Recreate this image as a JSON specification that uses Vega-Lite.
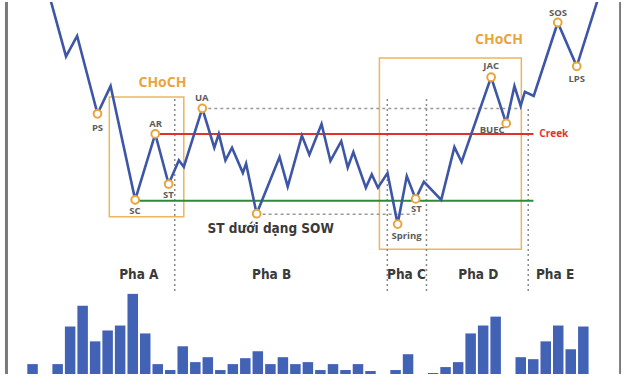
{
  "$schema": "https://vega.github.io/schema/vega-lite/v6.json",
  "width": 627,
  "height": 376,
  "autosize": {"type": "fit", "contains": "padding"},
  "padding": 0,
  "background": "white",
  "config": {"view": {"stroke": null}},
  "datasets": {
    "price": [
      {"t": 43, "p": 390}, {"t": 62, "p": 321}, {"t": 73.3, "p": 341.7}, {"t": 94, "p": 263},
      {"t": 107.3, "p": 291}, {"t": 132.3, "p": 176}, {"t": 152.7, "p": 242.7}, {"t": 166.3, "p": 192},
      {"t": 176.7, "p": 216}, {"t": 181.7, "p": 209.3}, {"t": 200.5, "p": 268.5}, {"t": 212.7, "p": 228.7},
      {"t": 217.3, "p": 242.7}, {"t": 224, "p": 216}, {"t": 230.7, "p": 228.7}, {"t": 241.7, "p": 203.3},
      {"t": 245, "p": 212.7}, {"t": 255.7, "p": 162}, {"t": 279, "p": 219.3}, {"t": 287.3, "p": 189.3},
      {"t": 301.7, "p": 241}, {"t": 309.3, "p": 221.7}, {"t": 321.7, "p": 252.7}, {"t": 330.7, "p": 215.3},
      {"t": 341.7, "p": 235.3}, {"t": 348.3, "p": 208.7}, {"t": 354, "p": 224.3}, {"t": 366.7, "p": 188.3},
      {"t": 372.7, "p": 201.7}, {"t": 379, "p": 188.3}, {"t": 388.7, "p": 203}, {"t": 399, "p": 151.5},
      {"t": 408.3, "p": 200}, {"t": 417.3, "p": 177}, {"t": 425.7, "p": 194.3}, {"t": 443.3, "p": 176},
      {"t": 456.7, "p": 229.3}, {"t": 464, "p": 214.3}, {"t": 494, "p": 300}, {"t": 509.3, "p": 253.3},
      {"t": 517.7, "p": 291}, {"t": 524, "p": 271}, {"t": 528.3, "p": 285.3}, {"t": 537.3, "p": 281},
      {"t": 561.7, "p": 355.3}, {"t": 581, "p": 311}, {"t": 607, "p": 393}
    ],
    "events": [
      {"t": 94, "p": 263, "name": "PS", "lt": 94, "lp": 249},
      {"t": 132.3, "p": 176, "name": "SC", "lt": 132, "lp": 165},
      {"t": 152.7, "p": 242.7, "name": "AR", "lt": 153, "lp": 253},
      {"t": 166.3, "p": 192, "name": "ST", "lt": 166, "lp": 181},
      {"t": 200.5, "p": 268.5, "name": "UA", "lt": 200, "lp": 279},
      {"t": 255.7, "p": 162, "name": "", "lt": 255.7, "lp": 162},
      {"t": 399, "p": 151.5, "name": "Spring", "lt": 408, "lp": 139},
      {"t": 417.3, "p": 177, "name": "ST", "lt": 418, "lp": 167},
      {"t": 494, "p": 300, "name": "JAC", "lt": 494, "lp": 311},
      {"t": 509.3, "p": 253.3, "name": "BUEC", "lt": 495, "lp": 247},
      {"t": 561.7, "p": 355.3, "name": "SOS", "lt": 562, "lp": 365},
      {"t": 581, "p": 311, "name": "LPS", "lt": 581, "lp": 298}
    ],
    "volume": [
      {"t": 28, "v": 10}, {"t": 53.5, "v": 10}, {"t": 66.2, "v": 48}, {"t": 78.9, "v": 69},
      {"t": 91.6, "v": 33}, {"t": 104.3, "v": 44}, {"t": 117, "v": 49}, {"t": 129.8, "v": 81},
      {"t": 142.5, "v": 41}, {"t": 155.2, "v": 10}, {"t": 167.9, "v": 4}, {"t": 180.6, "v": 28},
      {"t": 193.4, "v": 12}, {"t": 206.1, "v": 17}, {"t": 218.8, "v": 4}, {"t": 231.5, "v": 10},
      {"t": 244.2, "v": 16}, {"t": 256.9, "v": 23}, {"t": 269.7, "v": 10}, {"t": 282.4, "v": 17},
      {"t": 295.1, "v": 10}, {"t": 307.8, "v": 12}, {"t": 320.5, "v": 4}, {"t": 333.3, "v": 10},
      {"t": 346, "v": 4}, {"t": 358.7, "v": 10}, {"t": 371.4, "v": 3}, {"t": 396.9, "v": 4},
      {"t": 409.6, "v": 20}, {"t": 435, "v": 1}, {"t": 447.7, "v": 7}, {"t": 460.5, "v": 12},
      {"t": 473.2, "v": 41}, {"t": 485.9, "v": 49}, {"t": 498.6, "v": 58}, {"t": 524.1, "v": 17},
      {"t": 536.8, "v": 15}, {"t": 549.5, "v": 33}, {"t": 562.2, "v": 49}, {"t": 574.9, "v": 25},
      {"t": 587.7, "v": 48}
    ]
  },
  "layer": [
    {
      "data": {"name": "volume"},
      "mark": {"type": "bar", "color": "#4262B6", "width": 10.5},
      "encoding": {
        "x": {"field": "t", "type": "quantitative", "scale": {"domain": [0, 627], "nice": false, "zero": false}, "axis": null},
        "y": {"field": "v", "type": "quantitative", "scale": {"domain": [0, 376], "nice": false, "zero": false}, "axis": null}
      }
    },
    {
      "data": {"values": [{"t": 1.5, "c": "a"}]},
      "mark": {"type": "rule", "color": "#7a7a7a", "strokeWidth": 3},
      "encoding": {"x": {"field": "t", "type": "quantitative"}}
    },
    {
      "data": {"values": [{"t": 625, "c": "b"}]},
      "mark": {"type": "rule", "color": "#555555", "strokeWidth": 1.5},
      "encoding": {"x": {"field": "t", "type": "quantitative"}}
    },
    {
      "data": {"values": [
        {"t1": 106, "t2": 181.7, "p1": 159, "p2": 280},
        {"t1": 380.5, "t2": 524.7, "p1": 126, "p2": 319.3}
      ]},
      "mark": {"type": "rect", "fill": "transparent", "stroke": "#EDB55C", "strokeWidth": 1.5},
      "encoding": {
        "x": {"field": "t1", "type": "quantitative"},
        "x2": {"field": "t2"},
        "y": {"field": "p1", "type": "quantitative"},
        "y2": {"field": "p2"}
      }
    },
    {
      "data": {"values": [
        {"t": 172.5, "p1": 84, "p2": 280},
        {"t": 388.5, "p1": 84, "p2": 279},
        {"t": 428.3, "p1": 84, "p2": 279},
        {"t": 531.7, "p1": 84, "p2": 271}
      ]},
      "mark": {"type": "rule", "color": "#8a8a8a", "strokeWidth": 1.5, "strokeDash": [2, 3]},
      "encoding": {
        "x": {"field": "t", "type": "quantitative"},
        "y": {"field": "p1", "type": "quantitative"},
        "y2": {"field": "p2"}
      }
    },
    {
      "data": {"values": [
        {"t1": 200.5, "t2": 525, "p": 268.3},
        {"t1": 255.7, "t2": 417, "p": 161.5}
      ]},
      "mark": {"type": "rule", "color": "#9a9a9a", "strokeWidth": 1.5, "strokeDash": [3, 3]},
      "encoding": {
        "x": {"field": "t1", "type": "quantitative"},
        "x2": {"field": "t2"},
        "y": {"field": "p", "type": "quantitative"}
      }
    },
    {
      "data": {"values": [{"t1": 152.7, "t2": 537, "p": 242.7}]},
      "mark": {"type": "rule", "color": "#E0322C", "strokeWidth": 2},
      "encoding": {
        "x": {"field": "t1", "type": "quantitative"},
        "x2": {"field": "t2"},
        "y": {"field": "p", "type": "quantitative"}
      }
    },
    {
      "data": {"values": [{"t1": 132.3, "t2": 537, "p": 175}]},
      "mark": {"type": "rule", "color": "#2C8A3C", "strokeWidth": 2},
      "encoding": {
        "x": {"field": "t1", "type": "quantitative"},
        "x2": {"field": "t2"},
        "y": {"field": "p", "type": "quantitative"}
      }
    },
    {
      "data": {"name": "price"},
      "mark": {"type": "line", "color": "#3D56A6", "strokeWidth": 2.6, "clip": true, "strokeJoin": "miter"},
      "encoding": {
        "x": {"field": "t", "type": "quantitative"},
        "y": {"field": "p", "type": "quantitative"}
      }
    },
    {
      "data": {"name": "events"},
      "mark": {"type": "point", "filled": false, "fill": "white", "fillOpacity": 1, "stroke": "#E9A53D", "strokeWidth": 2, "size": 60, "opacity": 1},
      "encoding": {
        "x": {"field": "t", "type": "quantitative"},
        "y": {"field": "p", "type": "quantitative"}
      }
    },
    {
      "data": {"name": "events"},
      "mark": {"type": "text", "font": "Open Sans", "fontSize": 9.5, "fontWeight": "bold", "color": "#5c5c5c", "align": "center", "baseline": "middle"},
      "encoding": {
        "x": {"field": "lt", "type": "quantitative"},
        "y": {"field": "lp", "type": "quantitative"},
        "text": {"field": "name"}
      }
    },
    {
      "data": {"values": [{"t": 543, "p": 243, "label": "Creek"}]},
      "mark": {"type": "text", "font": "Open Sans", "fontSize": 10, "fontWeight": "bold", "color": "#E0322C", "align": "left", "baseline": "middle"},
      "encoding": {
        "x": {"field": "t", "type": "quantitative"},
        "y": {"field": "p", "type": "quantitative"},
        "text": {"field": "label"}
      }
    },
    {
      "data": {"values": [{"t": 160, "p": 294, "label": "CHoCH"}, {"t": 502, "p": 338, "label": "CHoCH"}]},
      "mark": {"type": "text", "font": "Open Sans", "fontSize": 14, "fontWeight": "bold", "color": "#E9A53D", "align": "center", "baseline": "middle"},
      "encoding": {
        "x": {"field": "t", "type": "quantitative"},
        "y": {"field": "p", "type": "quantitative"},
        "text": {"field": "label"}
      }
    },
    {
      "data": {"values": [
        {"t": 136, "p": 100, "label": "Pha A"},
        {"t": 271, "p": 100, "label": "Pha B"},
        {"t": 408, "p": 100, "label": "Pha C"},
        {"t": 481, "p": 100, "label": "Pha D"},
        {"t": 559, "p": 100, "label": "Pha E"},
        {"t": 270, "p": 147, "label": "ST dưới dạng SOW"}
      ]},
      "mark": {"type": "text", "font": "DejaVu Sans Condensed, Roboto, sans-serif", "fontSize": 13.5, "fontWeight": "bold", "color": "#3a3a3a", "align": "center", "baseline": "middle"},
      "encoding": {
        "x": {"field": "t", "type": "quantitative"},
        "y": {"field": "p", "type": "quantitative"},
        "text": {"field": "label"}
      }
    }
  ]
}
